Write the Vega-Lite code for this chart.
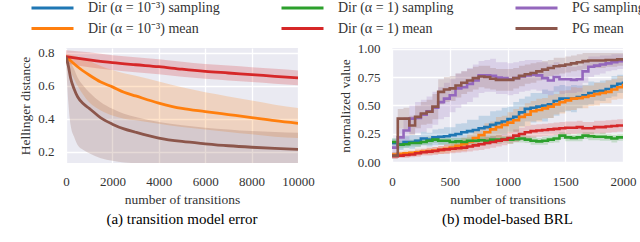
{
"$schema":"https://vega.github.io/schema/vega-lite/v6.json",
"background":"white",
"padding":{"left":18,"top":0,"right":2,"bottom":2},
"spacing":23,
"datasets":{
"left":[
{"s":"Am","t":0,"v":0.776,"l":0.76,"h":0.79},{"s":"Am","t":250,"v":0.745,"l":0.67,"h":0.785},{"s":"Am","t":500,"v":0.715,"l":0.6,"h":0.775},{"s":"Am","t":1000,"v":0.665,"l":0.5,"h":0.75},{"s":"Am","t":1500,"v":0.622,"l":0.45,"h":0.72},{"s":"Am","t":2000,"v":0.593,"l":0.42,"h":0.695},{"s":"Am","t":2500,"v":0.56,"l":0.4,"h":0.675},{"s":"Am","t":3000,"v":0.538,"l":0.39,"h":0.66},{"s":"Am","t":4000,"v":0.495,"l":0.37,"h":0.625},{"s":"Am","t":5000,"v":0.462,"l":0.35,"h":0.59},{"s":"Am","t":6000,"v":0.443,"l":0.335,"h":0.56},{"s":"Am","t":7000,"v":0.425,"l":0.32,"h":0.535},{"s":"Am","t":8000,"v":0.407,"l":0.305,"h":0.51},{"s":"Am","t":9000,"v":0.388,"l":0.29,"h":0.485},{"s":"Am","t":10000,"v":0.372,"l":0.283,"h":0.465},
{"s":"Bm","t":0,"v":0.776,"l":0.735,"h":0.815},{"s":"Bm","t":1000,"v":0.757,"l":0.712,"h":0.802},{"s":"Bm","t":2000,"v":0.74,"l":0.695,"h":0.785},{"s":"Bm","t":3000,"v":0.727,"l":0.682,"h":0.772},{"s":"Bm","t":4000,"v":0.715,"l":0.67,"h":0.76},{"s":"Bm","t":5000,"v":0.7,"l":0.655,"h":0.745},{"s":"Bm","t":6000,"v":0.687,"l":0.642,"h":0.732},{"s":"Bm","t":7000,"v":0.677,"l":0.632,"h":0.722},{"s":"Bm","t":8000,"v":0.667,"l":0.622,"h":0.712},{"s":"Bm","t":9000,"v":0.657,"l":0.612,"h":0.702},{"s":"Bm","t":10000,"v":0.647,"l":0.602,"h":0.692},
{"s":"Cm","t":0,"v":0.776,"l":0.74,"h":0.79},{"s":"Cm","t":100,"v":0.72,"l":0.5,"h":0.77},{"s":"Cm","t":200,"v":0.645,"l":0.36,"h":0.74},{"s":"Cm","t":350,"v":0.58,"l":0.29,"h":0.7},{"s":"Cm","t":500,"v":0.533,"l":0.24,"h":0.65},{"s":"Cm","t":750,"v":0.49,"l":0.21,"h":0.6},{"s":"Cm","t":1000,"v":0.463,"l":0.19,"h":0.56},{"s":"Cm","t":1500,"v":0.405,"l":0.16,"h":0.5},{"s":"Cm","t":2000,"v":0.367,"l":0.145,"h":0.46},{"s":"Cm","t":2500,"v":0.338,"l":0.135,"h":0.43},{"s":"Cm","t":3000,"v":0.318,"l":0.13,"h":0.41},{"s":"Cm","t":4000,"v":0.283,"l":0.12,"h":0.38},{"s":"Cm","t":5000,"v":0.262,"l":0.11,"h":0.36},{"s":"Cm","t":6000,"v":0.248,"l":0.105,"h":0.345},{"s":"Cm","t":7000,"v":0.236,"l":0.1,"h":0.335},{"s":"Cm","t":8000,"v":0.227,"l":0.1,"h":0.325},{"s":"Cm","t":9000,"v":0.22,"l":0.1,"h":0.32},{"s":"Cm","t":10000,"v":0.214,"l":0.1,"h":0.315}
],
"right":[
{"s":"As","t":0,"v":0.17,"l":0.13,"h":0.21},{"s":"As","t":50,"v":0.16,"l":0.11,"h":0.21},{"s":"As","t":100,"v":0.18,"l":0.13,"h":0.23},{"s":"As","t":150,"v":0.18,"l":0.12,"h":0.24},{"s":"As","t":200,"v":0.19,"l":0.14,"h":0.24},{"s":"As","t":250,"v":0.21,"l":0.15,"h":0.27},{"s":"As","t":300,"v":0.2,"l":0.14,"h":0.26},{"s":"As","t":350,"v":0.22,"l":0.15,"h":0.29},{"s":"As","t":400,"v":0.225,"l":0.155,"h":0.295},{"s":"As","t":450,"v":0.23,"l":0.15,"h":0.31},{"s":"As","t":500,"v":0.24,"l":0.17,"h":0.31},{"s":"As","t":550,"v":0.25,"l":0.16,"h":0.34},{"s":"As","t":600,"v":0.265,"l":0.185,"h":0.345},{"s":"As","t":650,"v":0.275,"l":0.175,"h":0.375},{"s":"As","t":700,"v":0.285,"l":0.195,"h":0.375},{"s":"As","t":750,"v":0.3,"l":0.19,"h":0.41},{"s":"As","t":800,"v":0.31,"l":0.21,"h":0.41},{"s":"As","t":850,"v":0.33,"l":0.21,"h":0.45},{"s":"As","t":900,"v":0.345,"l":0.235,"h":0.455},{"s":"As","t":950,"v":0.36,"l":0.24,"h":0.48},{"s":"As","t":1000,"v":0.38,"l":0.27,"h":0.49},{"s":"As","t":1050,"v":0.4,"l":0.27,"h":0.53},{"s":"As","t":1100,"v":0.44,"l":0.32,"h":0.56},{"s":"As","t":1150,"v":0.47,"l":0.36,"h":0.58},{"s":"As","t":1200,"v":0.48,"l":0.35,"h":0.61},{"s":"As","t":1250,"v":0.49,"l":0.37,"h":0.61},{"s":"As","t":1300,"v":0.5,"l":0.36,"h":0.64},{"s":"As","t":1350,"v":0.51,"l":0.39,"h":0.63},{"s":"As","t":1400,"v":0.54,"l":0.41,"h":0.67},{"s":"As","t":1450,"v":0.56,"l":0.44,"h":0.68},{"s":"As","t":1500,"v":0.56,"l":0.45,"h":0.67},{"s":"As","t":1550,"v":0.56,"l":0.44,"h":0.68},{"s":"As","t":1600,"v":0.575,"l":0.475,"h":0.675},{"s":"As","t":1650,"v":0.59,"l":0.5,"h":0.68},{"s":"As","t":1700,"v":0.61,"l":0.51,"h":0.71},{"s":"As","t":1750,"v":0.625,"l":0.545,"h":0.705},{"s":"As","t":1800,"v":0.63,"l":0.54,"h":0.72},{"s":"As","t":1850,"v":0.645,"l":0.565,"h":0.725},{"s":"As","t":1900,"v":0.67,"l":0.58,"h":0.76},{"s":"As","t":1950,"v":0.69,"l":0.61,"h":0.77},{"s":"As","t":2000,"v":0.71,"l":0.63,"h":0.79},
{"s":"Am","t":0,"v":0.07,"l":0.05,"h":0.09},{"s":"Am","t":50,"v":0.075,"l":0.055,"h":0.095},{"s":"Am","t":100,"v":0.08,"l":0.055,"h":0.105},{"s":"Am","t":150,"v":0.085,"l":0.065,"h":0.105},{"s":"Am","t":200,"v":0.09,"l":0.06,"h":0.12},{"s":"Am","t":250,"v":0.095,"l":0.07,"h":0.12},{"s":"Am","t":300,"v":0.1,"l":0.07,"h":0.13},{"s":"Am","t":350,"v":0.105,"l":0.075,"h":0.135},{"s":"Am","t":400,"v":0.11,"l":0.075,"h":0.145},{"s":"Am","t":450,"v":0.12,"l":0.08,"h":0.16},{"s":"Am","t":500,"v":0.13,"l":0.09,"h":0.17},{"s":"Am","t":550,"v":0.145,"l":0.095,"h":0.195},{"s":"Am","t":600,"v":0.16,"l":0.1,"h":0.22},{"s":"Am","t":650,"v":0.185,"l":0.125,"h":0.245},{"s":"Am","t":700,"v":0.215,"l":0.145,"h":0.285},{"s":"Am","t":750,"v":0.24,"l":0.18,"h":0.3},{"s":"Am","t":800,"v":0.265,"l":0.185,"h":0.345},{"s":"Am","t":850,"v":0.29,"l":0.22,"h":0.36},{"s":"Am","t":900,"v":0.31,"l":0.22,"h":0.4},{"s":"Am","t":950,"v":0.33,"l":0.25,"h":0.41},{"s":"Am","t":1000,"v":0.35,"l":0.26,"h":0.44},{"s":"Am","t":1050,"v":0.37,"l":0.27,"h":0.47},{"s":"Am","t":1100,"v":0.4,"l":0.31,"h":0.49},{"s":"Am","t":1150,"v":0.42,"l":0.32,"h":0.52},{"s":"Am","t":1200,"v":0.45,"l":0.36,"h":0.54},{"s":"Am","t":1250,"v":0.46,"l":0.36,"h":0.56},{"s":"Am","t":1300,"v":0.475,"l":0.385,"h":0.565},{"s":"Am","t":1350,"v":0.49,"l":0.39,"h":0.59},{"s":"Am","t":1400,"v":0.51,"l":0.42,"h":0.6},{"s":"Am","t":1450,"v":0.53,"l":0.43,"h":0.63},{"s":"Am","t":1500,"v":0.545,"l":0.455,"h":0.635},{"s":"Am","t":1550,"v":0.56,"l":0.46,"h":0.66},{"s":"Am","t":1600,"v":0.565,"l":0.475,"h":0.655},{"s":"Am","t":1650,"v":0.575,"l":0.475,"h":0.675},{"s":"Am","t":1700,"v":0.585,"l":0.495,"h":0.675},{"s":"Am","t":1750,"v":0.6,"l":0.5,"h":0.7},{"s":"Am","t":1800,"v":0.61,"l":0.52,"h":0.7},{"s":"Am","t":1850,"v":0.62,"l":0.52,"h":0.72},{"s":"Am","t":1900,"v":0.64,"l":0.55,"h":0.73},{"s":"Am","t":1950,"v":0.66,"l":0.56,"h":0.76},{"s":"Am","t":2000,"v":0.69,"l":0.6,"h":0.78},
{"s":"Bs","t":0,"v":0.18,"l":0.15,"h":0.21},{"s":"Bs","t":50,"v":0.155,"l":0.125,"h":0.185},{"s":"Bs","t":100,"v":0.16,"l":0.13,"h":0.19},{"s":"Bs","t":150,"v":0.17,"l":0.14,"h":0.2},{"s":"Bs","t":200,"v":0.17,"l":0.135,"h":0.205},{"s":"Bs","t":250,"v":0.18,"l":0.15,"h":0.21},{"s":"Bs","t":300,"v":0.19,"l":0.155,"h":0.225},{"s":"Bs","t":350,"v":0.2,"l":0.17,"h":0.23},{"s":"Bs","t":400,"v":0.19,"l":0.155,"h":0.225},{"s":"Bs","t":450,"v":0.19,"l":0.16,"h":0.22},{"s":"Bs","t":500,"v":0.18,"l":0.145,"h":0.215},{"s":"Bs","t":550,"v":0.185,"l":0.155,"h":0.215},{"s":"Bs","t":600,"v":0.18,"l":0.145,"h":0.215},{"s":"Bs","t":650,"v":0.19,"l":0.16,"h":0.22},{"s":"Bs","t":700,"v":0.19,"l":0.155,"h":0.225},{"s":"Bs","t":750,"v":0.195,"l":0.165,"h":0.225},{"s":"Bs","t":800,"v":0.19,"l":0.155,"h":0.225},{"s":"Bs","t":850,"v":0.2,"l":0.17,"h":0.23},{"s":"Bs","t":900,"v":0.2,"l":0.165,"h":0.235},{"s":"Bs","t":950,"v":0.205,"l":0.175,"h":0.235},{"s":"Bs","t":1000,"v":0.2,"l":0.165,"h":0.235},{"s":"Bs","t":1050,"v":0.205,"l":0.175,"h":0.235},{"s":"Bs","t":1100,"v":0.21,"l":0.175,"h":0.245},{"s":"Bs","t":1150,"v":0.2,"l":0.17,"h":0.23},{"s":"Bs","t":1200,"v":0.19,"l":0.155,"h":0.225},{"s":"Bs","t":1250,"v":0.185,"l":0.155,"h":0.215},{"s":"Bs","t":1300,"v":0.19,"l":0.155,"h":0.225},{"s":"Bs","t":1350,"v":0.2,"l":0.17,"h":0.23},{"s":"Bs","t":1400,"v":0.21,"l":0.175,"h":0.245},{"s":"Bs","t":1450,"v":0.235,"l":0.205,"h":0.265},{"s":"Bs","t":1500,"v":0.22,"l":0.185,"h":0.255},{"s":"Bs","t":1550,"v":0.215,"l":0.185,"h":0.245},{"s":"Bs","t":1600,"v":0.22,"l":0.185,"h":0.255},{"s":"Bs","t":1650,"v":0.235,"l":0.205,"h":0.265},{"s":"Bs","t":1700,"v":0.23,"l":0.195,"h":0.265},{"s":"Bs","t":1750,"v":0.225,"l":0.195,"h":0.255},{"s":"Bs","t":1800,"v":0.225,"l":0.19,"h":0.26},{"s":"Bs","t":1850,"v":0.22,"l":0.19,"h":0.25},{"s":"Bs","t":1900,"v":0.21,"l":0.175,"h":0.245},{"s":"Bs","t":1950,"v":0.22,"l":0.19,"h":0.25},{"s":"Bs","t":2000,"v":0.22,"l":0.185,"h":0.255},
{"s":"Bm","t":0,"v":0.055,"l":0.035,"h":0.075},{"s":"Bm","t":50,"v":0.06,"l":0.04,"h":0.08},{"s":"Bm","t":100,"v":0.065,"l":0.04,"h":0.09},{"s":"Bm","t":150,"v":0.07,"l":0.045,"h":0.095},{"s":"Bm","t":200,"v":0.08,"l":0.05,"h":0.11},{"s":"Bm","t":250,"v":0.09,"l":0.06,"h":0.12},{"s":"Bm","t":300,"v":0.095,"l":0.06,"h":0.13},{"s":"Bm","t":350,"v":0.1,"l":0.065,"h":0.135},{"s":"Bm","t":400,"v":0.11,"l":0.075,"h":0.145},{"s":"Bm","t":450,"v":0.115,"l":0.075,"h":0.155},{"s":"Bm","t":500,"v":0.12,"l":0.08,"h":0.16},{"s":"Bm","t":550,"v":0.125,"l":0.085,"h":0.165},{"s":"Bm","t":600,"v":0.13,"l":0.09,"h":0.17},{"s":"Bm","t":650,"v":0.14,"l":0.095,"h":0.185},{"s":"Bm","t":700,"v":0.15,"l":0.105,"h":0.195},{"s":"Bm","t":750,"v":0.16,"l":0.11,"h":0.21},{"s":"Bm","t":800,"v":0.17,"l":0.12,"h":0.22},{"s":"Bm","t":850,"v":0.18,"l":0.13,"h":0.23},{"s":"Bm","t":900,"v":0.19,"l":0.14,"h":0.24},{"s":"Bm","t":950,"v":0.2,"l":0.15,"h":0.25},{"s":"Bm","t":1000,"v":0.215,"l":0.165,"h":0.265},{"s":"Bm","t":1050,"v":0.235,"l":0.18,"h":0.29},{"s":"Bm","t":1100,"v":0.25,"l":0.195,"h":0.305},{"s":"Bm","t":1150,"v":0.265,"l":0.21,"h":0.32},{"s":"Bm","t":1200,"v":0.275,"l":0.22,"h":0.33},{"s":"Bm","t":1250,"v":0.28,"l":0.225,"h":0.335},{"s":"Bm","t":1300,"v":0.285,"l":0.23,"h":0.34},{"s":"Bm","t":1350,"v":0.29,"l":0.235,"h":0.345},{"s":"Bm","t":1400,"v":0.295,"l":0.24,"h":0.35},{"s":"Bm","t":1450,"v":0.3,"l":0.245,"h":0.355},{"s":"Bm","t":1500,"v":0.305,"l":0.25,"h":0.36},{"s":"Bm","t":1550,"v":0.305,"l":0.25,"h":0.36},{"s":"Bm","t":1600,"v":0.31,"l":0.255,"h":0.365},{"s":"Bm","t":1650,"v":0.3,"l":0.245,"h":0.355},{"s":"Bm","t":1700,"v":0.3,"l":0.245,"h":0.355},{"s":"Bm","t":1750,"v":0.31,"l":0.255,"h":0.365},{"s":"Bm","t":1800,"v":0.31,"l":0.255,"h":0.365},{"s":"Bm","t":1850,"v":0.315,"l":0.26,"h":0.37},{"s":"Bm","t":1900,"v":0.32,"l":0.265,"h":0.375},{"s":"Bm","t":1950,"v":0.325,"l":0.27,"h":0.38},{"s":"Bm","t":2000,"v":0.335,"l":0.28,"h":0.39},
{"s":"Cs","t":0,"v":0.13,"l":0.08,"h":0.18},{"s":"Cs","t":50,"v":0.22,"l":0.14,"h":0.3},{"s":"Cs","t":100,"v":0.28,"l":0.17,"h":0.4},{"s":"Cs","t":150,"v":0.385,"l":0.25,"h":0.5},{"s":"Cs","t":200,"v":0.39,"l":0.26,"h":0.53},{"s":"Cs","t":250,"v":0.42,"l":0.27,"h":0.55},{"s":"Cs","t":300,"v":0.45,"l":0.3,"h":0.58},{"s":"Cs","t":350,"v":0.48,"l":0.33,"h":0.62},{"s":"Cs","t":400,"v":0.53,"l":0.38,"h":0.66},{"s":"Cs","t":450,"v":0.56,"l":0.4,"h":0.7},{"s":"Cs","t":500,"v":0.59,"l":0.44,"h":0.73},{"s":"Cs","t":550,"v":0.65,"l":0.48,"h":0.78},{"s":"Cs","t":600,"v":0.66,"l":0.51,"h":0.8},{"s":"Cs","t":650,"v":0.69,"l":0.53,"h":0.83},{"s":"Cs","t":700,"v":0.72,"l":0.57,"h":0.86},{"s":"Cs","t":750,"v":0.765,"l":0.61,"h":0.89},{"s":"Cs","t":800,"v":0.765,"l":0.62,"h":0.9},{"s":"Cs","t":850,"v":0.76,"l":0.62,"h":0.91},{"s":"Cs","t":900,"v":0.745,"l":0.6,"h":0.88},{"s":"Cs","t":950,"v":0.74,"l":0.6,"h":0.88},{"s":"Cs","t":1000,"v":0.73,"l":0.59,"h":0.87},{"s":"Cs","t":1050,"v":0.74,"l":0.6,"h":0.88},{"s":"Cs","t":1100,"v":0.755,"l":0.62,"h":0.89},{"s":"Cs","t":1150,"v":0.765,"l":0.63,"h":0.9},{"s":"Cs","t":1200,"v":0.77,"l":0.64,"h":0.9},{"s":"Cs","t":1250,"v":0.765,"l":0.63,"h":0.9},{"s":"Cs","t":1300,"v":0.74,"l":0.6,"h":0.88},{"s":"Cs","t":1350,"v":0.72,"l":0.59,"h":0.86},{"s":"Cs","t":1400,"v":0.75,"l":0.62,"h":0.88},{"s":"Cs","t":1450,"v":0.73,"l":0.6,"h":0.86},{"s":"Cs","t":1500,"v":0.73,"l":0.61,"h":0.85},{"s":"Cs","t":1550,"v":0.725,"l":0.61,"h":0.84},{"s":"Cs","t":1600,"v":0.73,"l":0.62,"h":0.85},{"s":"Cs","t":1650,"v":0.8,"l":0.7,"h":0.9},{"s":"Cs","t":1700,"v":0.84,"l":0.75,"h":0.93},{"s":"Cs","t":1750,"v":0.85,"l":0.77,"h":0.93},{"s":"Cs","t":1800,"v":0.86,"l":0.78,"h":0.94},{"s":"Cs","t":1850,"v":0.87,"l":0.8,"h":0.94},{"s":"Cs","t":1900,"v":0.88,"l":0.81,"h":0.95},{"s":"Cs","t":1950,"v":0.89,"l":0.82,"h":0.95},{"s":"Cs","t":2000,"v":0.895,"l":0.83,"h":0.96},
{"s":"Cm","t":0,"v":0.06,"l":0.03,"h":0.09},{"s":"Cm","t":50,"v":0.385,"l":0.3,"h":0.47},{"s":"Cm","t":100,"v":0.385,"l":0.29,"h":0.48},{"s":"Cm","t":150,"v":0.325,"l":0.24,"h":0.41},{"s":"Cm","t":200,"v":0.4,"l":0.3,"h":0.5},{"s":"Cm","t":250,"v":0.43,"l":0.33,"h":0.53},{"s":"Cm","t":300,"v":0.445,"l":0.34,"h":0.55},{"s":"Cm","t":350,"v":0.49,"l":0.38,"h":0.6},{"s":"Cm","t":400,"v":0.62,"l":0.51,"h":0.73},{"s":"Cm","t":450,"v":0.64,"l":0.53,"h":0.75},{"s":"Cm","t":500,"v":0.65,"l":0.54,"h":0.76},{"s":"Cm","t":550,"v":0.675,"l":0.57,"h":0.78},{"s":"Cm","t":600,"v":0.7,"l":0.6,"h":0.8},{"s":"Cm","t":650,"v":0.72,"l":0.62,"h":0.82},{"s":"Cm","t":700,"v":0.74,"l":0.64,"h":0.84},{"s":"Cm","t":750,"v":0.755,"l":0.66,"h":0.85},{"s":"Cm","t":800,"v":0.75,"l":0.65,"h":0.85},{"s":"Cm","t":850,"v":0.735,"l":0.64,"h":0.83},{"s":"Cm","t":900,"v":0.725,"l":0.63,"h":0.82},{"s":"Cm","t":950,"v":0.725,"l":0.63,"h":0.82},{"s":"Cm","t":1000,"v":0.725,"l":0.63,"h":0.82},{"s":"Cm","t":1050,"v":0.74,"l":0.65,"h":0.83},{"s":"Cm","t":1100,"v":0.76,"l":0.67,"h":0.85},{"s":"Cm","t":1150,"v":0.775,"l":0.69,"h":0.86},{"s":"Cm","t":1200,"v":0.785,"l":0.7,"h":0.87},{"s":"Cm","t":1250,"v":0.8,"l":0.72,"h":0.88},{"s":"Cm","t":1300,"v":0.815,"l":0.74,"h":0.89},{"s":"Cm","t":1350,"v":0.83,"l":0.76,"h":0.9},{"s":"Cm","t":1400,"v":0.845,"l":0.77,"h":0.92},{"s":"Cm","t":1450,"v":0.85,"l":0.78,"h":0.92},{"s":"Cm","t":1500,"v":0.86,"l":0.79,"h":0.93},{"s":"Cm","t":1550,"v":0.87,"l":0.8,"h":0.94},{"s":"Cm","t":1600,"v":0.88,"l":0.81,"h":0.95},{"s":"Cm","t":1650,"v":0.89,"l":0.82,"h":0.96},{"s":"Cm","t":1700,"v":0.895,"l":0.83,"h":0.96},{"s":"Cm","t":1750,"v":0.895,"l":0.83,"h":0.96},{"s":"Cm","t":1800,"v":0.895,"l":0.83,"h":0.96},{"s":"Cm","t":1850,"v":0.9,"l":0.84,"h":0.96},{"s":"Cm","t":1900,"v":0.9,"l":0.84,"h":0.96},{"s":"Cm","t":1950,"v":0.905,"l":0.85,"h":0.96},{"s":"Cm","t":2000,"v":0.905,"l":0.85,"h":0.96}
]
},
"hconcat":[
{
"width":232,"height":115,
"data":{"name":"left"},
"title":{"text":"(a) transition model error","orient":"bottom","offset":6},
"encoding":{
"x":{"field":"t","type":"quantitative","scale":{"domain":[0,10000],"nice":false},"axis":{"title":"number of transitions","values":[0,2000,4000,6000,8000,10000],"format":"d"}}
},
"layer":[
{"mark":{"type":"area","opacity":0.22,"interpolate":"monotone","clip":true},
"encoding":{"y":{"field":"l","type":"quantitative","scale":{"domain":[0.1315,0.8285],"nice":false,"zero":false},"axis":{"title":"Hellinger distance","values":[0.2,0.4,0.6,0.8],"format":".1f","labelOverlap":false}},"y2":{"field":"h"},
"fill":{"field":"s","type":"nominal","scale":{"domain":["Am","Bm","Cm","As","Bs","Cs"],"range":["#ff7f0e","#d62728","#8c564b","#1f77b4","#2ca02c","#9467bd"]},"legend":null}}},
{"mark":{"type":"line","strokeWidth":2.8,"interpolate":"monotone","clip":true},
"encoding":{"y":{"field":"v","type":"quantitative","scale":{"domain":[0.1315,0.8285],"nice":false,"zero":false},"axis":{"title":"Hellinger distance","values":[0.2,0.4,0.6,0.8],"format":".1f","labelOverlap":false}},
"color":{"field":"s","type":"nominal","scale":{"domain":["As","Bs","Cs","Am","Bm","Cm"],"range":["#1f77b4","#2ca02c","#9467bd","#ff7f0e","#d62728","#8c564b"]},
"legend":{"orient":"none","title":null,"legendX":-36,"legendY":-48,"labelExpr":"datum.label == 'As' ? 'Dir (α = 10⁻³) sampling' : datum.label == 'Bs' ? 'Dir (α = 1) sampling' : datum.label == 'Cs' ? 'PG sampling' : datum.label == 'Am' ? 'Dir (α = 10⁻³) mean' : datum.label == 'Bm' ? 'Dir (α = 1) mean' : 'PG mean'"}}}}
]
},
{
"width":231,"height":115,
"data":{"name":"right"},
"title":{"text":"(b) model-based BRL","orient":"bottom","offset":6},
"encoding":{
"x":{"field":"t","type":"quantitative","scale":{"domain":[0,2000],"nice":false},"axis":{"title":"number of transitions","values":[0,500,1000,1500,2000],"format":"d"}}
},
"layer":[
{"mark":{"type":"area","opacity":0.2,"interpolate":"step-after","clip":true},
"encoding":{"y":{"field":"l","type":"quantitative","scale":{"domain":[-0.005,1.005],"nice":false,"zero":false},"axis":{"title":"normalized value","values":[0,0.25,0.5,0.75,1],"format":".2f","labelOverlap":false}},"y2":{"field":"h"},
"fill":{"field":"s","type":"nominal","scale":{"domain":["Am","Bm","Cm","As","Bs","Cs"],"range":["#ff7f0e","#d62728","#8c564b","#1f77b4","#2ca02c","#9467bd"]},"legend":null}}},
{"mark":{"type":"line","strokeWidth":2.6,"interpolate":"step-after","clip":true},
"encoding":{"y":{"field":"v","type":"quantitative","scale":{"domain":[-0.005,1.005],"nice":false,"zero":false},"axis":{"title":"normalized value","values":[0,0.25,0.5,0.75,1],"format":".2f","labelOverlap":false}},
"color":{"field":"s","type":"nominal","scale":{"domain":["As","Bs","Cs","Am","Bm","Cm"],"range":["#1f77b4","#2ca02c","#9467bd","#ff7f0e","#d62728","#8c564b"]},
"legend":{"orient":"none","title":null,"legendX":-36,"legendY":-48,"labelExpr":"datum.label == 'As' ? 'Dir (α = 10⁻³) sampling' : datum.label == 'Bs' ? 'Dir (α = 1) sampling' : datum.label == 'Cs' ? 'PG sampling' : datum.label == 'Am' ? 'Dir (α = 10⁻³) mean' : datum.label == 'Bm' ? 'Dir (α = 1) mean' : 'PG mean'"}}}}
]
}
],
"resolve":{"scale":{"color":"shared","fill":"shared"},"legend":{"color":"shared"}},
"config":{
"view":{"fill":"#EAEAF2","stroke":null},
"axis":{"domain":false,"ticks":false,"grid":true,"gridColor":"#ffffff","gridWidth":1.3,"labelFont":"Liberation Serif","labelFontSize":13,"labelColor":"#333333","labelPadding":12,"labelFlush":false,"labelOverlap":false,"titleFont":"Liberation Serif","titleFontSize":13.5,"titleFontWeight":"normal","titleColor":"#333333"},
"axisX":{"titlePadding":4},
"axisY":{"titlePadding":5},
"legend":{"direction":"horizontal","columns":3,"clipHeight":16,"symbolType":"stroke","symbolSize":1764,"symbolStrokeWidth":3,"symbolOpacity":1,"labelOffset":13,"columnPadding":60,"rowPadding":4.5,"labelFont":"Liberation Serif","labelFontSize":14,"labelColor":"#333333","labelLimit":300},
"title":{"font":"Liberation Serif","fontSize":15,"fontWeight":"normal","color":"#000000"}
}
}
